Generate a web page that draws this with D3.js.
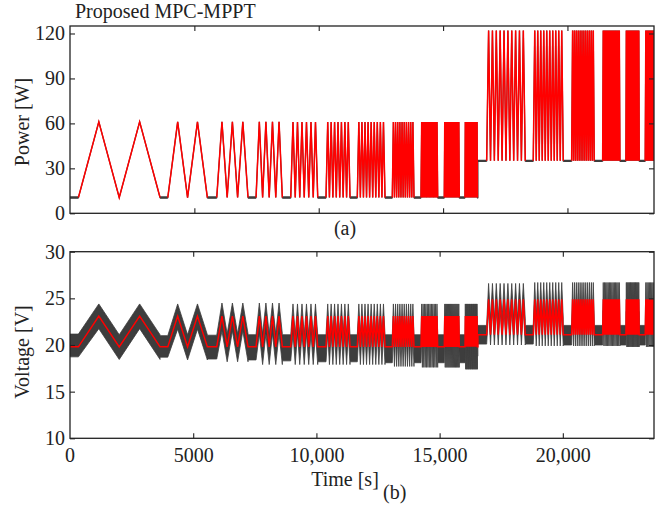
<!DOCTYPE html>
<html>
<head>
<meta charset="utf-8">
<script src="https://cdn.jsdelivr.net/npm/d3@7"></script>
<style>
body { margin: 0; background: #fff; }
text { font-family: "Liberation Serif", "Times New Roman", serif; fill: #222; }
</style>
</head>
<body>
<svg id="chart" width="662" height="508"></svg>
<script>
// reference profile: bursts of triangles, time in s
var groupStart  = [338, 3931, 5900, 7480, 8875, 10293, 11551, 12958, 14112, 15048, 15880, 16752, 18625, 20169, 21415, 22351, 23127];
var groupEnd    = [3621, 5523, 7158, 8537, 9960, 11258, 12665, 13830, 14783, 15651, 16380, 18304, 19831, 21077, 22110, 22886, 23800];
var groupCycles = [2, 2, 3, 4, 6, 7, 9, 10, 12, 16, 18, 10, 10, 12, 14, 16, 14];
var stepTime = 16400;

// levels before / after the irradiance step
var powerLow  = [10.5, 35];
var powerHigh = [61, 122];
var voltLow   = [19.8, 21.1];
var voltHigh  = [23.1, 24.9];

// measured voltage spread around the reference (V)
var bandUp   = [1.3, 1.3, 1.4, 1.4, 1.3, 1.3, 1.3, 1.3, 1.3, 1.3, 1.3, 1.7, 1.8, 1.8, 1.8, 1.8, 1.8];
var bandDown = [1.35, 1.4, 1.6, 1.9, 1.9, 1.9, 1.9, 2.1, 2.2, 2.2, 2.4, 1.1, 1.2, 1.2, 1.2, 1.3, 1.3];
var flatUp   = [1.37, 1.2, 1.25, 1.3, 1.3, 1.3, 1.3, 1.3, 1.3, 1.3, 1.3, 1.0, 1.0, 1.0, 1.0, 1.0, 1.0];
var flatDown = [1.07, 1.1, 1.3, 1.4, 1.5, 1.6, 1.6, 1.7, 1.7, 1.7, 1.7, 1.0, 1.0, 1.1, 1.1, 1.1, 1.1];

var powerTicks = [0, 30, 60, 90, 120];
var voltTicks  = [10, 15, 20, 25, 30];
var timeTicks  = [0, 5000, 10000, 15000, 20000];

var svg = d3.select("#chart");
var left = 70, right = 654;
var topPanel = { y0: 26, y1: 213.3 };
var botPanel = { y0: 251.7, y1: 438.3 };

// both traces share the time scale; the lower axis was drawn with a slightly longer span
var xTime = d3.scaleLinear().domain([0, 23480]).range([left, right]);
var xBotAxis = d3.scaleLinear().domain([0, 23700]).range([left, right]);
var yPow = d3.scaleLinear().domain([0, 125]).range([topPanel.y1, topPanel.y0]);
var yVol = d3.scaleLinear().domain([10, 30]).range([botPanel.y1, botPanel.y0]);

function side(t) { return t < stepTime ? 0 : 1; }

function profile(low, high) {
  var pts = [{ t: 0, v: low[0], g: -1, up: flatUp[0], dn: flatDown[0] }];
  groupStart.forEach(function (s, i) {
    var e = groupEnd[i], n = groupCycles[i], k = side(s);
    if (i > 0 && groupEnd[i - 1] < stepTime && s > stepTime) {
      pts.push({ t: stepTime, v: low[0], g: -1, up: flatUp[i], dn: flatDown[i] });
      pts.push({ t: stepTime, v: low[1], g: -1, up: flatUp[i], dn: flatDown[i] });
    }
    var p = (e - s) / n;
    pts.push({ t: s, v: low[k], g: i, up: flatUp[i], dn: flatDown[i] });
    for (var j = 0; j < n; j++) {
      pts.push({ t: s + (j + 0.5) * p, v: high[k], g: i, up: bandUp[i], dn: bandDown[i] });
      pts.push({ t: s + (j + 1) * p, v: low[k], g: i, up: bandUp[i], dn: bandDown[i] });
    }
    var nf = Math.min(i + 1, flatUp.length - 1);
    pts.push({ t: e, v: low[k], g: i, up: flatUp[nf], dn: flatDown[nf] });
  });
  return pts;
}

var powerPts = profile(powerLow, powerHigh);
var voltPts = profile(voltLow, voltHigh);

// horizontal stretches between bursts
var powerFlats = [];
for (var i = 1; i < powerPts.length; i++) {
  var a = powerPts[i - 1], b = powerPts[i];
  if (a.v === b.v && b.t > a.t) powerFlats.push([a, b]);
}

// clip paths
var defs = svg.append("defs");
[["clipTop", topPanel], ["clipBot", botPanel]].forEach(function (c) {
  defs.append("clipPath").attr("id", c[0]).append("rect")
    .attr("x", left).attr("y", c[1].y0)
    .attr("width", right - left).attr("height", c[1].y1 - c[1].y0);
});

// ---- panel (a): power
var gTop = svg.append("g").attr("clip-path", "url(#clipTop)");
var powLine = d3.line().x(function (d) { return xTime(d.t); }).y(function (d) { return yPow(d.v); });

gTop.append("path").datum(powerPts)
  .attr("d", powLine)
  .attr("fill", "none").attr("stroke", "#3d3d3d").attr("stroke-width", 1.2);

gTop.selectAll("path.flat").data(powerFlats).enter().append("path")
  .attr("class", "flat")
  .attr("d", powLine)
  .attr("fill", "none").attr("stroke", "#3d3d3d").attr("stroke-width", 2.4);

groupStart.forEach(function (s, i) {
  gTop.append("path")
    .datum(powerPts.filter(function (d) { return d.g === i; }))
    .attr("d", powLine)
    .attr("fill", "none").attr("stroke", "#ff0000").attr("stroke-width", 1.5);
});

// ---- panel (b): voltage
var gBot = svg.append("g").attr("clip-path", "url(#clipBot)");
var volBand = d3.area()
  .x(function (d) { return xTime(d.t); })
  .y0(function (d) { return yVol(d.v - d.dn); })
  .y1(function (d) { return yVol(d.v + d.up); });
var volLine = d3.line().x(function (d) { return xTime(d.t); }).y(function (d) { return yVol(d.v); });

gBot.append("path").datum(voltPts)
  .attr("d", volBand)
  .attr("fill", "#3d3d3d").attr("stroke", "#3d3d3d").attr("stroke-width", 0.8);

gBot.append("path").datum(voltPts)
  .attr("d", volLine)
  .attr("fill", "none").attr("stroke", "#ff0000").attr("stroke-width", 1.5);

// ---- axes
function timeFmt(d) { return d < 10000 ? String(d) : d3.format(",")(d); }

function frame(panel, x, y, yTicks, showX) {
  var inner = -5;
  var ax = svg.append("g").attr("transform", "translate(0," + panel.y1 + ")")
    .call(d3.axisBottom(x).tickValues(timeTicks.slice(1)).tickSizeInner(inner).tickSizeOuter(0)
      .tickPadding(9.5).tickFormat(showX ? timeFmt : ""));
  svg.append("g").attr("transform", "translate(0," + panel.y0 + ")")
    .call(d3.axisTop(x).tickValues(timeTicks.slice(1)).tickSizeInner(inner).tickSizeOuter(0).tickFormat(""));
  svg.append("g").attr("transform", "translate(" + left + ",0)")
    .call(d3.axisLeft(y).tickValues(yTicks).tickSizeInner(inner).tickSizeOuter(0).tickPadding(5));
  svg.append("g").attr("transform", "translate(" + right + ",0)")
    .call(d3.axisRight(y).tickValues(yTicks).tickSizeInner(inner).tickSizeOuter(0).tickFormat(""));
  if (showX) {
    ax.append("g").attr("class", "tick").append("text")
      .attr("x", x(0)).attr("y", 9.5).attr("dy", "0.71em")
      .attr("text-anchor", "middle").text("0");
  }
  svg.selectAll(".domain").remove();
  svg.selectAll(".tick line").attr("stroke", "#222").attr("stroke-width", 1.1);
  svg.selectAll(".tick text").style("font-family", "Liberation Serif").style("font-size", "20px").attr("fill", "#222");
  svg.append("rect").attr("x", left).attr("y", panel.y0)
    .attr("width", right - left).attr("height", panel.y1 - panel.y0)
    .attr("fill", "none").attr("stroke", "#222").attr("stroke-width", 1.3);
}

frame(topPanel, xTime, yPow, powerTicks, false);
frame(botPanel, xBotAxis, yVol, voltTicks, true);

// ---- labels
svg.append("text").attr("x", 75).attr("y", 18).style("font-size", "20px").text("Proposed MPC-MPPT");
svg.append("text").attr("transform", "translate(29,122) rotate(-90)")
  .attr("text-anchor", "middle").style("font-size", "20px").text("Power [W]");
svg.append("text").attr("transform", "translate(29,352) rotate(-90)")
  .attr("text-anchor", "middle").style("font-size", "20px").text("Voltage [V]");
svg.append("text").attr("x", 345).attr("y", 235).attr("text-anchor", "middle")
  .style("font-size", "20px").text("(a)");
svg.append("text").attr("x", 345).attr("y", 486).attr("text-anchor", "middle")
  .style("font-size", "20px").text("Time [s]");
svg.append("text").attr("x", 383).attr("y", 499).style("font-size", "20px").text("(b)");
</script>
</body>
</html>
